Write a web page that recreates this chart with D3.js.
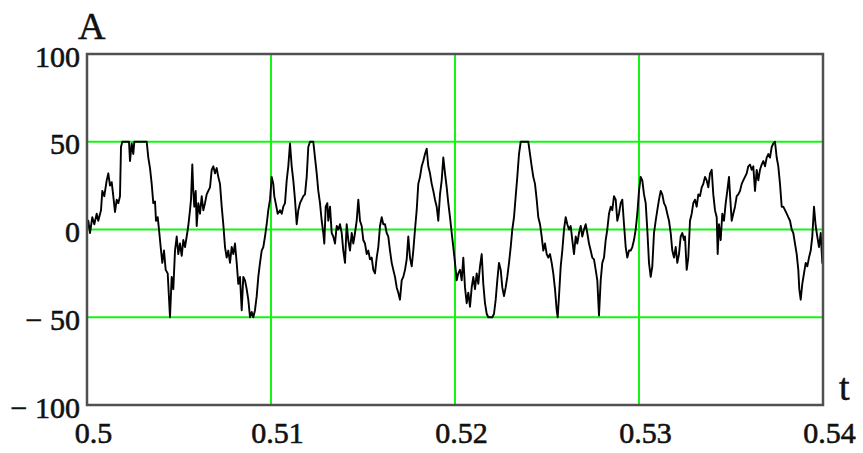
<!DOCTYPE html>
<html>
<head>
<meta charset="utf-8">
<script src="https://cdn.jsdelivr.net/npm/d3@7"></script>
<style>
  html, body { margin: 0; padding: 0; background: #fff; }
  svg { display: block; }
</style>
</head>
<body>
<svg id="chart" width="863" height="453"></svg>
<script>
// ---- data ----
const tValues = [
0.500000,0.500071,0.500163,0.500288,0.500397,0.500527,0.500614,0.500761,0.500832,0.500940,
0.501071,0.501158,0.501250,0.501342,0.501429,0.501522,0.501614,0.501701,0.501793,0.501848,
0.501918,0.502158,0.502283,0.502337,0.502429,0.502516,0.502571,0.503245,0.503332,0.503424,
0.503516,0.503603,0.503696,0.503750,0.503842,0.503913,0.504005,0.504092,0.504185,0.504277,
0.504386,0.504511,0.504603,0.504690,0.504783,0.504875,0.504962,0.505054,0.505147,0.505234,
0.505326,0.505418,0.505505,0.505598,0.505652,0.505723,0.505777,0.505832,0.505908,0.505962,
0.506049,0.506141,0.506234,0.506321,0.506413,0.506505,0.506592,0.506685,0.506777,0.506864,
0.506957,0.507049,0.507136,0.507228,0.507321,0.507408,0.507500,0.507592,0.507679,0.507772,
0.507864,0.507951,
0.508043,0.508136,0.508223,0.508315,0.508408,0.508495,0.508587,0.508679,0.508766,0.508859,
0.508951,0.509038,0.509130,0.509223,0.509310,0.509402,0.509495,0.509582,0.509674,0.509766,
0.509853,0.509946,0.510038,0.510125,0.510179,0.510255,0.510364,0.510489,0.510582,0.510668,
0.510761,0.510853,0.510940,0.511033,0.511125,0.511212,0.511304,0.511397,0.511484,0.511576,
0.511668,0.511755,0.511848,0.511940,0.512027,0.512120,0.512299,0.512391,0.512484,0.512571,
0.512663,0.512755,0.512842,0.512897,0.512973,0.513060,0.513114,0.513207,0.513299,0.513386,
0.513478,0.513571,0.513658,0.513750,0.513842,0.513929,0.514022,0.514114,0.514201,0.514293,
0.514386,0.514473,0.514565,0.514658,0.514745,0.514837,0.514929,0.515016,0.515109,0.515201,
0.515288,0.515380,0.515473,0.515560,0.515652,0.515745,0.515832,0.515924,0.516016,0.516103,
0.516196,0.516288,0.516375,0.516467,0.516560,0.516647,0.516739,0.516832,0.516918,0.517011,
0.517103,0.517190,0.517283,0.517375,0.517462,0.517554,0.517647,0.517734,0.517826,0.517918,
0.518005,0.518098,0.518190,0.518277,0.518370,0.518462,0.518549,0.518641,0.518734,0.518821,
0.518913,0.519005,0.519092,0.519185,0.519277,0.519364,0.519457,0.519549,0.519636,0.519728,
0.519821,0.519908,0.520000,0.520092,0.520179,0.520272,0.520364,0.520451,0.520543,0.520636,
0.520723,0.520815,0.520908,0.520995,0.521087,0.521179,0.521266,0.521359,0.521451,0.521538,
0.521630,0.521723,0.521810,0.522027,0.522120,0.522212,0.522299,0.522391,0.522484,0.522571,
0.522663,0.522755,0.522842,0.522935,0.523027,0.523114,0.523207,0.523299,0.523386,0.523478,
0.523571,0.523984,0.524076,0.524168,0.524255,
0.524348,0.524440,0.524527,0.524620,0.524712,0.524799,0.524891,0.524984,0.525071,0.525163,
0.525255,0.525342,0.525435,0.525527,0.525582,0.525652,0.525745,0.525832,0.525924,0.526016,
0.526103,0.526196,0.526288,0.526375,0.526467,0.526560,0.526647,0.526739,0.526832,0.526918,
0.527011,0.527103,0.527190,0.527283,0.527375,0.527462,0.527554,0.527647,0.527734,0.527826,
0.527918,0.528005,0.528098,0.528190,0.528277,0.528370,0.528462,0.528549,0.528641,0.528734,
0.528821,0.528913,0.529005,0.529092,0.529185,0.529277,0.529364,0.529457,0.529549,0.529636,
0.529728,0.529821,0.529908,0.530000,0.530092,0.530179,0.530272,0.530364,0.530451,0.530543,
0.530636,0.530723,0.530815,0.530908,0.530995,0.531087,0.531179,0.531266,0.531359,0.531451,
0.531538,0.531630,0.531723,0.531810,0.531902,0.531995,0.532082,0.532174,0.532266,0.532353,
0.532446,
0.532500,0.532592,0.532679,0.532772,0.532864,0.532951,0.533043,0.533136,0.533223,0.533315,
0.533408,0.533495,0.533587,0.533679,0.533766,0.533859,0.533951,0.534038,0.534130,0.534223,
0.534277,0.534348,0.534440,0.534527,0.534620,0.534712,0.534799,0.534891,0.534946,0.535038,
0.535125,0.535217,0.535310,0.535397,0.535489,0.535582,0.535668,0.535761,0.535853,0.535940,
0.536033,0.536125,0.536212,0.536304,0.536397,0.536484,0.536576,0.536668,0.536755,0.536848,
0.536940,0.537027,0.537120,0.537212,0.537299,0.537391,0.537484,0.537571,0.537663,0.537755,
0.537842,0.537935,0.538027,0.538114,0.538207,0.538299,0.538386,0.538478,0.538571,0.538658,
0.538712,0.538788,0.538875,0.538967,0.539060,0.539147,0.539239,0.539332,0.539418,0.539511,
0.539603,0.539690,0.539783,0.539875,0.539962,0.540000
];
const aValues = [
0,5,-2,7,3,9,5,11,22,19,
28,32,25,27,19,10,17,15,19,47,
50,50,50,39,49,43,50,50,41,35,
26,15,16,5,7,0,-10,-19,-12,-23,
-25,-50,-27,-34,-12,-4,-14,-8,-15,-6,
-10,-4,2,11,17,37,22,13,22,2,
15,9,19,11,15,20,22,24,34,36,
32,35,30,26,13,3,-10,-16,-12,-19,
-10,-14,
-8,-19,-31,-27,-46,-27,-29,-34,-40,-50,
-47,-50,-46,-38,-27,-19,-12,-10,-4,3,
11,17,30,26,19,15,9,11,9,13,
15,28,36,49,36,28,17,3,11,15,
17,19,20,30,47,50,50,41,32,22,
15,5,-2,-8,13,15,5,13,-2,-4,
-8,2,0,3,-2,-12,-19,3,-6,-12,
-2,-8,-2,5,17,5,2,-6,-8,-14,
-12,-17,-16,-23,-25,-16,-10,2,7,3,
3,-2,-4,-12,-19,-23,-27,-33,-36,-40,
-29,-27,-23,-17,-4,-16,-21,-12,0,11,
26,30,36,39,43,46,36,32,26,22,
17,13,5,20,28,41,32,24,15,7,
-2,-10,-19,-29,-25,-23,-29,-16,-33,-42,
-36,-44,-33,-27,-34,-25,-31,-21,-14,-31,
-42,-48,-50,-50,-48,-40,-29,-19,-23,-33,
-38,-33,-27,-19,-10,0,7,19,30,43,
50,50,43,36,30,
26,17,7,3,-4,-12,-8,-14,-16,-14,
-19,-25,-34,-46,-50,-38,-21,-12,0,7,
3,0,2,-6,-14,-4,-8,-2,2,-4,
0,3,-2,-8,-12,-16,-17,-23,-29,-49,
-29,-19,-16,-6,0,9,13,11,19,17,
5,9,15,17,3,-10,-16,-12,-12,-10,
-6,0,9,22,30,28,20,15,0,-19,
-27,-21,-2,5,11,17,22,20,15,13,
9,5,-2,-12,-16,-10,-19,-14,-4,-2,
-6,
-4,-23,-16,5,9,15,17,13,20,19,
24,26,30,28,24,32,34,20,11,7,
-14,3,-6,9,5,15,22,30,20,5,
9,13,19,20,22,26,28,30,32,36,
37,34,36,22,34,28,34,37,39,36,
41,43,41,47,49,50,41,36,26,13,
13,11,9,7,5,0,-2,-8,-14,-23,
-34,-40,-31,-25,-19,-21,-16,-12,-4,13,
2,-4,-10,-2,-19,-8
];
const xTicks = [0.5, 0.51, 0.52, 0.53, 0.54];
const xTickLabels = ["0.5", "0.51", "0.52", "0.53", "0.54"];
const yTicks = [100, 50, 0, -50, -100];
const yTickLabels = ["100", "50", "0", "\u2212 50", "\u2212 100"];
const gridX = [0.51, 0.52, 0.53];
const gridY = [50, 0, -50];

// ---- drawing ----
const svg = d3.select("#chart");
const pL = 87, pR = 823, pT = 54, pB = 405;
const x = d3.scaleLinear().domain([0.5, 0.54]).range([pL, pR]);
const y = d3.scaleLinear().domain([-100, 100]).range([pB, pT]);
const FONT = "'Liberation Serif', 'Times New Roman', serif";

svg.append("defs").append("clipPath").attr("id", "plotclip")
  .append("rect").attr("x", pL).attr("y", pT - 2)
  .attr("width", pR - pL).attr("height", pB - pT + 4);

// grid
const g = svg.append("g");
g.selectAll("line.gx").data(gridX).join("line")
  .attr("x1", d => x(d)).attr("x2", d => x(d))
  .attr("y1", pT).attr("y2", pB)
  .attr("stroke", "#14f514").attr("stroke-width", 2);
g.selectAll("line.gy").data(gridY).join("line")
  .attr("y1", d => y(d)).attr("y2", d => y(d))
  .attr("x1", pL).attr("x2", pR)
  .attr("stroke", "#14f514").attr("stroke-width", 2);

// signal
const n = Math.min(tValues.length, aValues.length);
const data = d3.range(n).map(i => [tValues[i], aValues[i]]);
svg.append("path")
  .datum(data)
  .attr("clip-path", "url(#plotclip)")
  .attr("fill", "none")
  .attr("stroke", "#000")
  .attr("stroke-width", 1.9)
  .attr("stroke-linejoin", "round")
  .attr("d", d3.line().x(d => x(d[0])).y(d => y(d[1])));

// frame
svg.append("rect")
  .attr("x", pL).attr("y", pT)
  .attr("width", pR - pL).attr("height", pB - pT)
  .attr("fill", "none").attr("stroke", "#505050").attr("stroke-width", 2.5);

// axes
const yAxis = svg.append("g")
  .attr("transform", `translate(${pL},0)`)
  .call(d3.axisLeft(y).tickValues(yTicks).tickSize(0).tickPadding(7)
    .tickFormat((d, i) => yTickLabels[i]));
yAxis.select(".domain").remove();
yAxis.selectAll("text")
  .attr("font-family", FONT).attr("font-size", 30).attr("fill", "#111")
  .attr("stroke", "#111").attr("stroke-width", 0.6)
  .attr("dy", "0.4em");

const xAxis = svg.append("g")
  .attr("transform", `translate(0,${pB})`)
  .call(d3.axisBottom(x).tickValues(xTicks).tickSize(0).tickPadding(17)
    .tickFormat((d, i) => xTickLabels[i]));
xAxis.select(".domain").remove();
xAxis.selectAll("text")
  .attr("font-family", FONT).attr("font-size", 30).attr("fill", "#111")
  .attr("stroke", "#111").attr("stroke-width", 0.6)
  .attr("dx", 6);

// axis titles
svg.append("text").attr("x", 78).attr("y", 39)
  .attr("font-family", FONT).attr("font-size", 38).attr("fill", "#111")
  .attr("stroke", "#111").attr("stroke-width", 0.5).text("A");
svg.append("text").attr("x", 839).attr("y", 400)
  .attr("font-family", FONT).attr("font-size", 38).attr("fill", "#111")
  .attr("stroke", "#111").attr("stroke-width", 0.5).text("t");
</script>
</body>
</html>
